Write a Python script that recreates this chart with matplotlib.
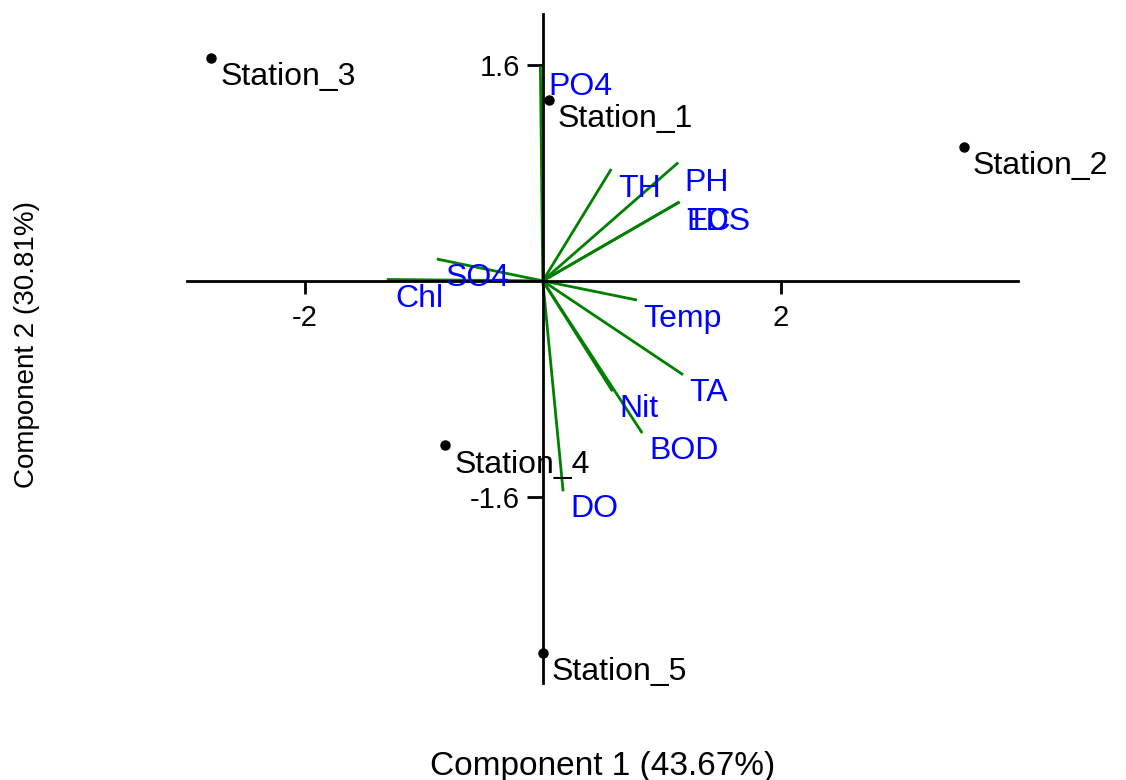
import matplotlib
matplotlib.use("Agg")
import matplotlib.pyplot as plt

plt.rcParams['font.family'] = ['Liberation Sans', 'DejaVu Sans']
plt.rcParams['axes.unicode_minus'] = False

# PCA scores of the sampling stations
stations = ['Station_1', 'Station_2', 'Station_3', 'Station_4', 'Station_5']
station_x = [0.05, 3.54, -2.79, -0.82, 0.00]
station_y = [1.34, 0.99, 1.65, -1.22, -2.76]

# loadings of the water quality variables
variables = ['PO4', 'TH', 'PH', 'EC', 'TDS', 'SO4', 'Chl', 'Temp', 'TA', 'Nit', 'BOD', 'DO']
load_x = [-0.02, 0.57, 1.13, 1.14, 1.14, -0.88, -1.30, 0.78, 1.17, 0.58, 0.83, 0.17]
load_y = [1.58, 0.82, 0.87, 0.58, 0.58, 0.16, 0.01, -0.14, -0.69, -0.81, -1.12, -1.55]

x_ticks = [-2, 2]
y_ticks = [-1.6, 1.6]

fig = plt.figure(figsize=(11.26, 7.8), dpi=100)
ax = fig.add_axes([0, 0, 1, 1])
ax.set_xlim(-4.565, 4.905)
ax.set_ylim(-3.70, 2.082)

# axes cross at the origin
for side in ['top', 'right']:
    ax.spines[side].set_visible(False)
ax.spines['left'].set_position(('data', 0))
ax.spines['bottom'].set_position(('data', 0))
ax.spines['left'].set_bounds(-2.98, 1.98)
ax.spines['bottom'].set_bounds(-2.99, 4.0)
for side in ['left', 'bottom']:
    ax.spines[side].set_linewidth(2.0)

ax.set_xticks(x_ticks)
ax.set_xticklabels([str(t) for t in x_ticks])
ax.set_yticks(y_ticks)
ax.set_yticklabels([str(t) for t in y_ticks])
ax.tick_params(axis='x', direction='out', length=9.5, width=2.0, pad=7, labelsize=21)
ax.tick_params(axis='y', direction='out', length=11.5, width=2.0, pad=5, labelsize=21)

# loading vectors
for name, lx, ly in zip(variables, load_x, load_y):
    ax.plot([0, lx], [0, ly], color='#008000', lw=2.0, zorder=2)
    ax.annotate(name, (lx, ly), xytext=(5.5, -3.0), textcoords='offset points',
                ha='left', va='top', fontsize=23, color='#0000ff')

# station points
ax.plot(station_x, station_y, 'o', color='black', ms=6.5, zorder=3)
for name, sx, sy in zip(stations, station_x, station_y):
    ax.annotate(name, (sx, sy), xytext=(6.5, -3.0), textcoords='offset points',
                ha='left', va='top', fontsize=23, color='black')

fig.text(603 / 1126, 1 - 766 / 780, 'Component 1 (43.67%)', ha='center', va='center', fontsize=24)
fig.text(27 / 1126, 1 - 345 / 780, 'Component 2 (30.81%)', ha='center', va='center',
         rotation=90, fontsize=20)

fig.savefig('out.png', dpi=100)
